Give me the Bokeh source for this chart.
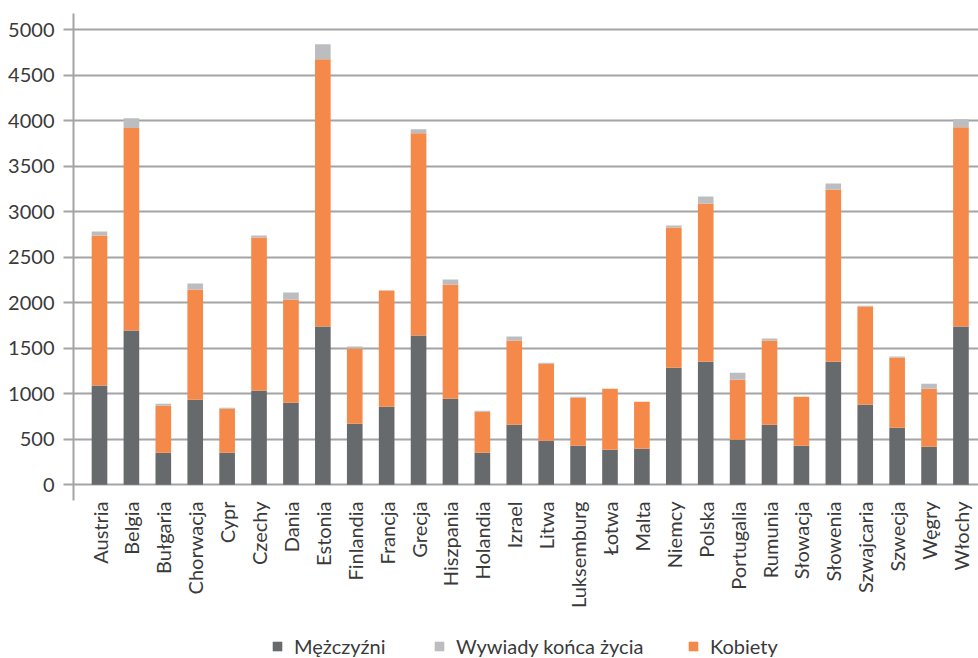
import math
from bokeh.plotting import figure
from bokeh.layouts import column
from bokeh.models import ColumnDataSource, FixedTicker, Range1d, Legend, LegendItem
from bokeh.embed import file_html
from bokeh.resources import INLINE

countries = ["Austria", "Belgia", "Bułgaria", "Chorwacja", "Cypr", "Czechy", "Dania",
             "Estonia", "Finlandia", "Francja", "Grecja", "Hiszpania", "Holandia",
             "Izrael", "Litwa", "Luksemburg", "Łotwa", "Malta", "Niemcy", "Polska",
             "Portugalia", "Rumunia", "Słowacja", "Słowenia", "Szwajcaria", "Szwecja",
             "Węgry", "Włochy"]
men = [1090, 1694, 352, 935, 352, 1034, 902, 1738, 671, 858, 1639, 946, 352, 660,
       484, 429, 385, 396, 1287, 1353, 495, 660, 429, 1353, 880, 627, 418, 1738]
women = [1648, 2225, 517, 1209, 484, 1682, 1132, 2936, 825, 1275, 2221, 1253, 451, 924,
         847, 528, 671, 517, 1539, 1737, 660, 924, 539, 1891, 1078, 770, 638, 2188]
interviews = [44, 106, 22, 66, 11, 22, 77, 165, 22, 0, 44, 55, 11, 44,
              11, 11, 0, 0, 22, 77, 77, 22, 0, 66, 10, 11, 55, 88]
y_ticks = list(range(0, 5001, 500))

series_names = ["Mężczyźni", "Wywiady końca życia", "Kobiety"]
colors = {"m": "#676a6d", "w": "#bcbdc0", "k": "#f4894a"}

FONT = "Lato"
FONT_SIZE = "20px"
TEXT_COLOR = "#3a3a3a"
GRID_COLOR = "#a4a4a4"

x = list(range(len(countries)))
source = ColumnDataSource(data=dict(x=x, m=men, k=women, w=interviews))

p = figure(width=978, height=622, output_backend="svg", toolbar_location=None,
           x_range=Range1d(-0.815, 27.55), y_range=Range1d(-172, 5176),
           min_border_left=73, min_border_right=0, min_border_top=13,
           min_border_bottom=122)
p.outline_line_color = None
p.background_fill_color = "white"
p.border_fill_color = "white"

# stacked bars: men at the bottom, women above, end-of-life interviews on top
p.vbar_stack(["m", "k", "w"], x="x", width=0.49, source=source,
             color=[colors["m"], colors["k"], colors["w"]], line_color=None)

# y axis
yax = p.yaxis[0]
yax.ticker = FixedTicker(ticks=y_ticks)
yax.axis_line_color = GRID_COLOR
yax.axis_line_width = 2
yax.major_tick_line_color = GRID_COLOR
yax.major_tick_line_width = 2
yax.major_tick_out = 10
yax.major_tick_in = 0
yax.minor_tick_line_color = None
yax.major_label_standoff = 9
yax.major_label_text_font = FONT
yax.major_label_text_font_size = FONT_SIZE
yax.major_label_text_color = TEXT_COLOR

# x axis: country names, vertical
xax = p.xaxis[0]
xax.ticker = FixedTicker(ticks=x)
xax.major_label_overrides = {i: c for i, c in enumerate(countries)}
xax.major_label_orientation = math.pi / 2
xax.axis_line_color = None
xax.major_tick_line_color = None
xax.minor_tick_line_color = None
xax.major_tick_out = 0
xax.major_tick_in = 0
xax.major_label_standoff = 1
xax.major_label_text_font = FONT
xax.major_label_text_font_size = FONT_SIZE
xax.major_label_text_color = TEXT_COLOR

p.xgrid.grid_line_color = None
p.ygrid.ticker = FixedTicker(ticks=y_ticks)
p.ygrid.grid_line_color = GRID_COLOR
p.ygrid.grid_line_width = 2

# legend strip below the chart (its frame is aligned with the chart frame, x=73)
lg_fig = figure(width=978, height=36, output_backend="svg", toolbar_location=None,
                x_range=Range1d(0, 1), y_range=Range1d(0, 1),
                x_axis_location=None, y_axis_location=None, min_border=0)
lg_fig.outline_line_color = None
lg_fig.grid.visible = False
lg_fig.border_fill_color = "white"

legend_entries = [(series_names[0], colors["m"], 198),
                  (series_names[1], colors["w"], 360),
                  (series_names[2], colors["k"], 614)]
for label, col, xpos in legend_entries:
    # off-screen swatch renderer, only used for the legend glyph
    swatch = lg_fig.vbar(x=[10], top=[10], bottom=[9], width=0.1,
                         color=col, line_color=None)
    lg = Legend(items=[LegendItem(label=label, renderers=[swatch])],
                location=(xpos, 0), orientation="horizontal",
                padding=0, margin=0, spacing=0,
                glyph_width=12, glyph_height=12, label_height=18,
                label_standoff=11, border_line_color=None,
                background_fill_alpha=0,
                label_text_font=FONT, label_text_font_size=FONT_SIZE,
                label_text_color=TEXT_COLOR)
    lg_fig.add_layout(lg, "center")

layout = column(p, lg_fig, spacing=0)
open("out.html", "w").write(file_html(layout, INLINE))
